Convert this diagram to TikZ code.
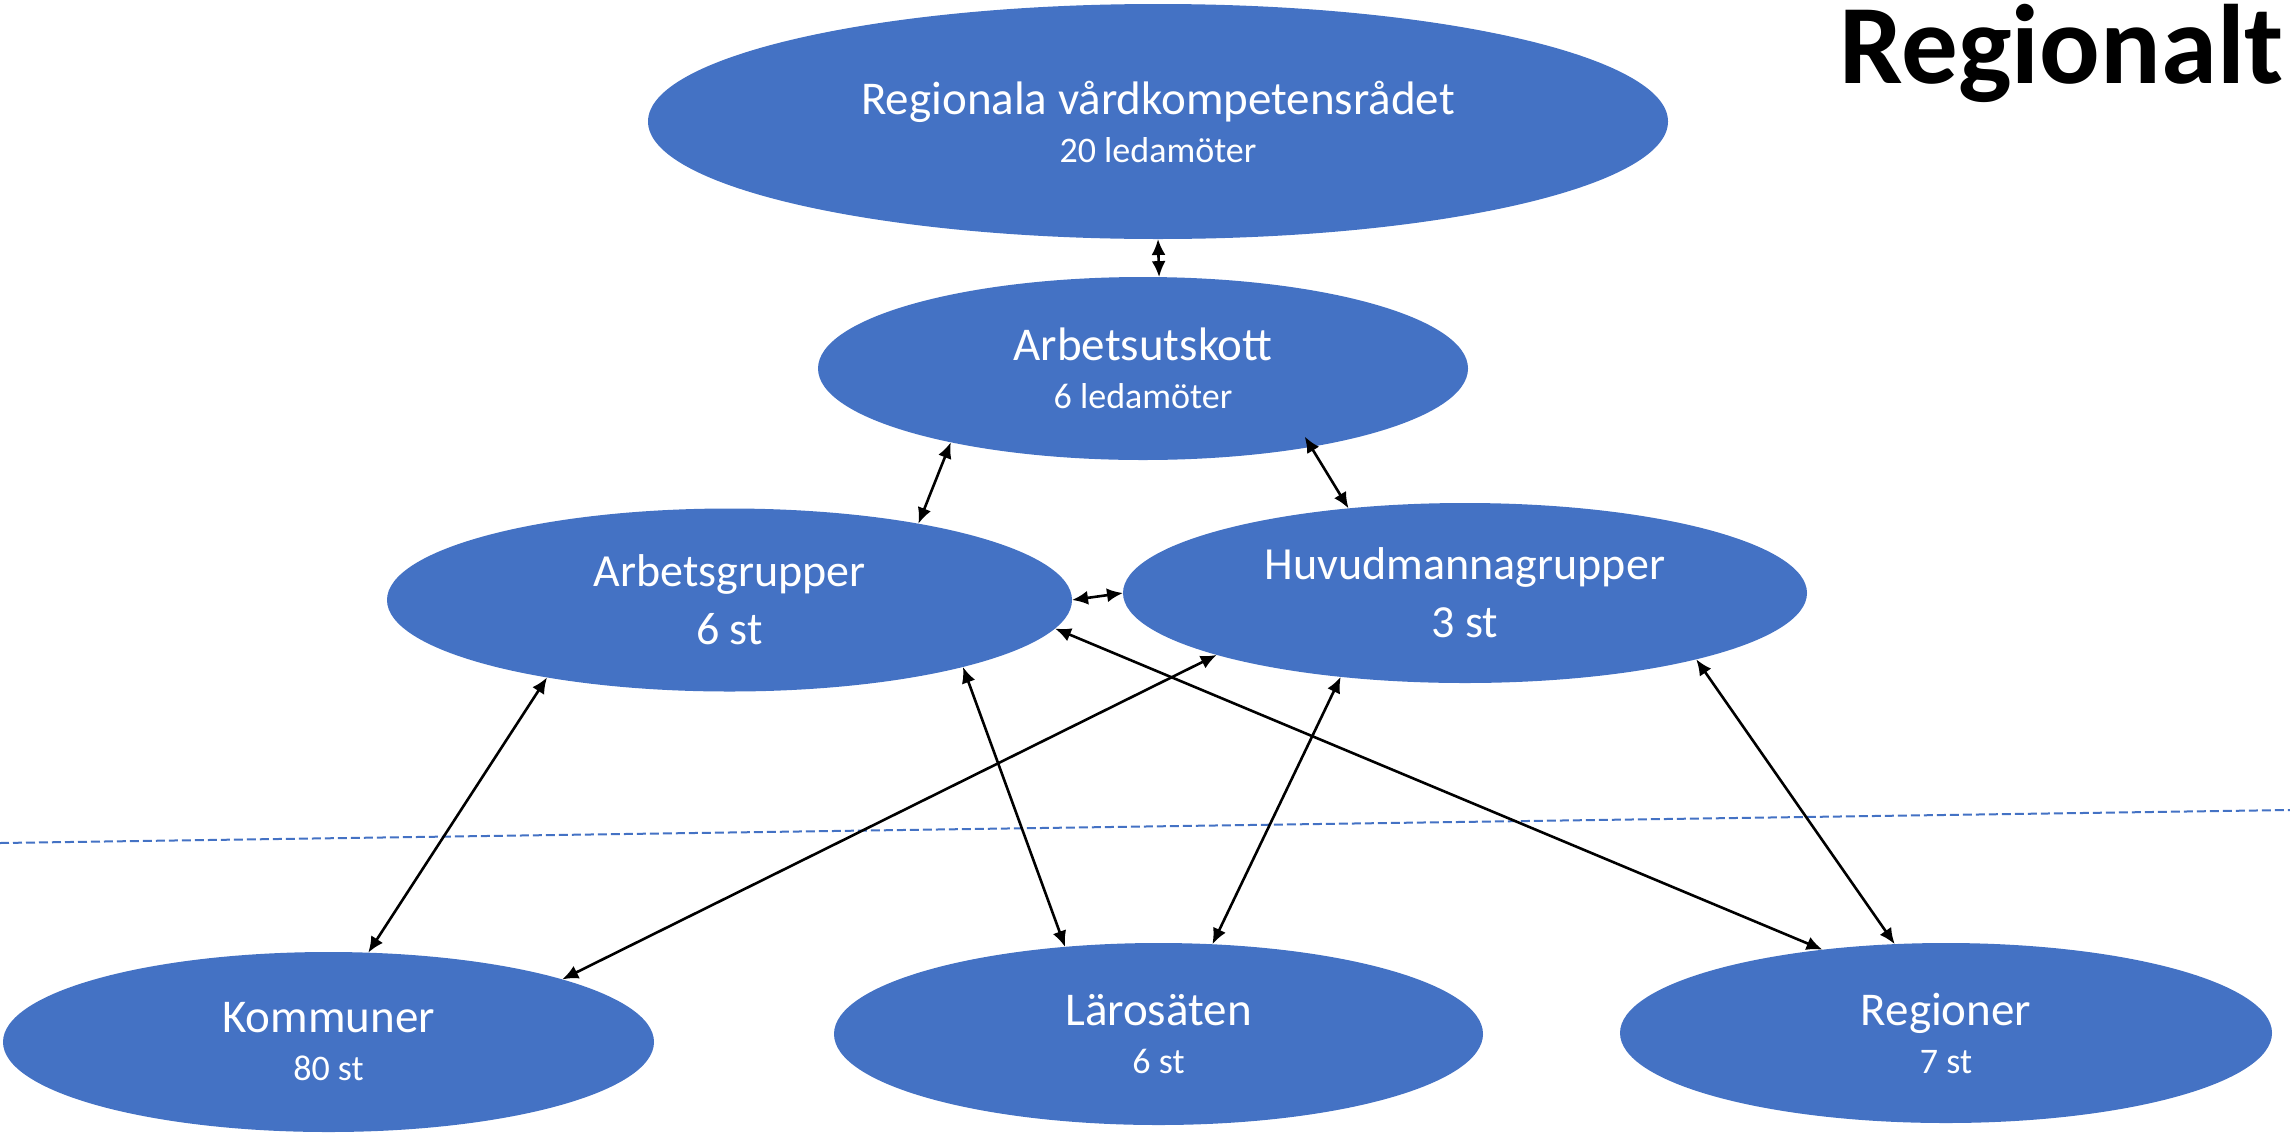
\documentclass[tikz,border=0pt]{standalone}
\usepackage{fontspec}
\setmainfont{Carlito}
\usetikzlibrary{shapes.geometric,arrows.meta}
\definecolor{officeblue}{HTML}{4472C4}
\newcommand{\lineA}{\fontsize{47}{48}\selectfont}
\newcommand{\lineB}{\fontsize{36}{48}\selectfont}
\newcommand{\lineC}{\fontsize{46}{58}\selectfont}
\tikzset{
  oval/.style={ellipse, fill=officeblue, text=white, inner sep=0pt, outer sep=0pt, align=center},
  link/.style={line width=2.6pt, {Latex[length=16pt,width=14pt]}-{Latex[length=16pt,width=14pt]}},
  divider/.style={officeblue, line width=2pt, dash pattern=on 9pt off 4pt},
}
\begin{document}
\begin{tikzpicture}[x=1pt,y=-1pt]
\path[use as bounding box] (0,0) rectangle (2290,1133);

% divider
\coordinate (dl) at (0,843);
\coordinate (dr) at (2290,810);
\draw[divider] (dl) -- (dr);

% nodes
\node[oval, font=\lineA, minimum width=1020pt, minimum height=235pt] (R) at (1158,121.5)
  {Regionala vårdkompetensrådet\\{\lineB 20 ledamöter}};
\node[oval, font=\lineA, minimum width=650pt, minimum height=183pt] (AU) at (1143,368.5)
  {Arbetsutskott\\{\lineB 6 ledamöter}};
\node[oval, font=\lineC, minimum width=685pt, minimum height=183pt] (AG) at (729.5,600)
  {Arbetsgrupper\\6 st};
\node[oval, font=\lineC, minimum width=684pt, minimum height=180pt] (HG) at (1465,593)
  {Huvudmannagrupper\\3 st};
\node[oval, font=\lineA, minimum width=651pt, minimum height=180pt] (K) at (328.5,1042)
  {Kommuner\\{\lineB 80 st}};
\node[oval, font=\lineA, minimum width=649pt, minimum height=182pt] (L) at (1158.5,1034)
  {Lärosäten\\{\lineB 6 st}};
\node[oval, font=\lineA, minimum width=652pt, minimum height=180pt] (RG) at (1946,1033)
  {Regioner\\{\lineB 7 st}};

\node[font=\fontsize{113}{120}\selectfont\bfseries, anchor=base east, inner sep=0pt] (title) at (2284,83) {Regionalt};

% connectors
\draw[link] (R.-90) -- (AU.80.5);
\draw[link] (AU.201.1) -- (AG.22.8);
\draw[link, shorten <=-12pt] (AU.-25) -- (HG.144.9);
\draw[link] (AG.0) -- (HG.180);
\draw[link] (AG.203.1) -- (K.66.1);
\draw[link] (HG.194.9) -- (K.15.1);
\draw[link] (AG.-16.6) -- (L.137.5);
\draw[link] (HG.214.2) -- (L.59.5);
\draw[link] (AG.-5.6) -- (RG.146.8);
\draw[link] (HG.-16.6) -- (RG.120);
\end{tikzpicture}
\end{document}
